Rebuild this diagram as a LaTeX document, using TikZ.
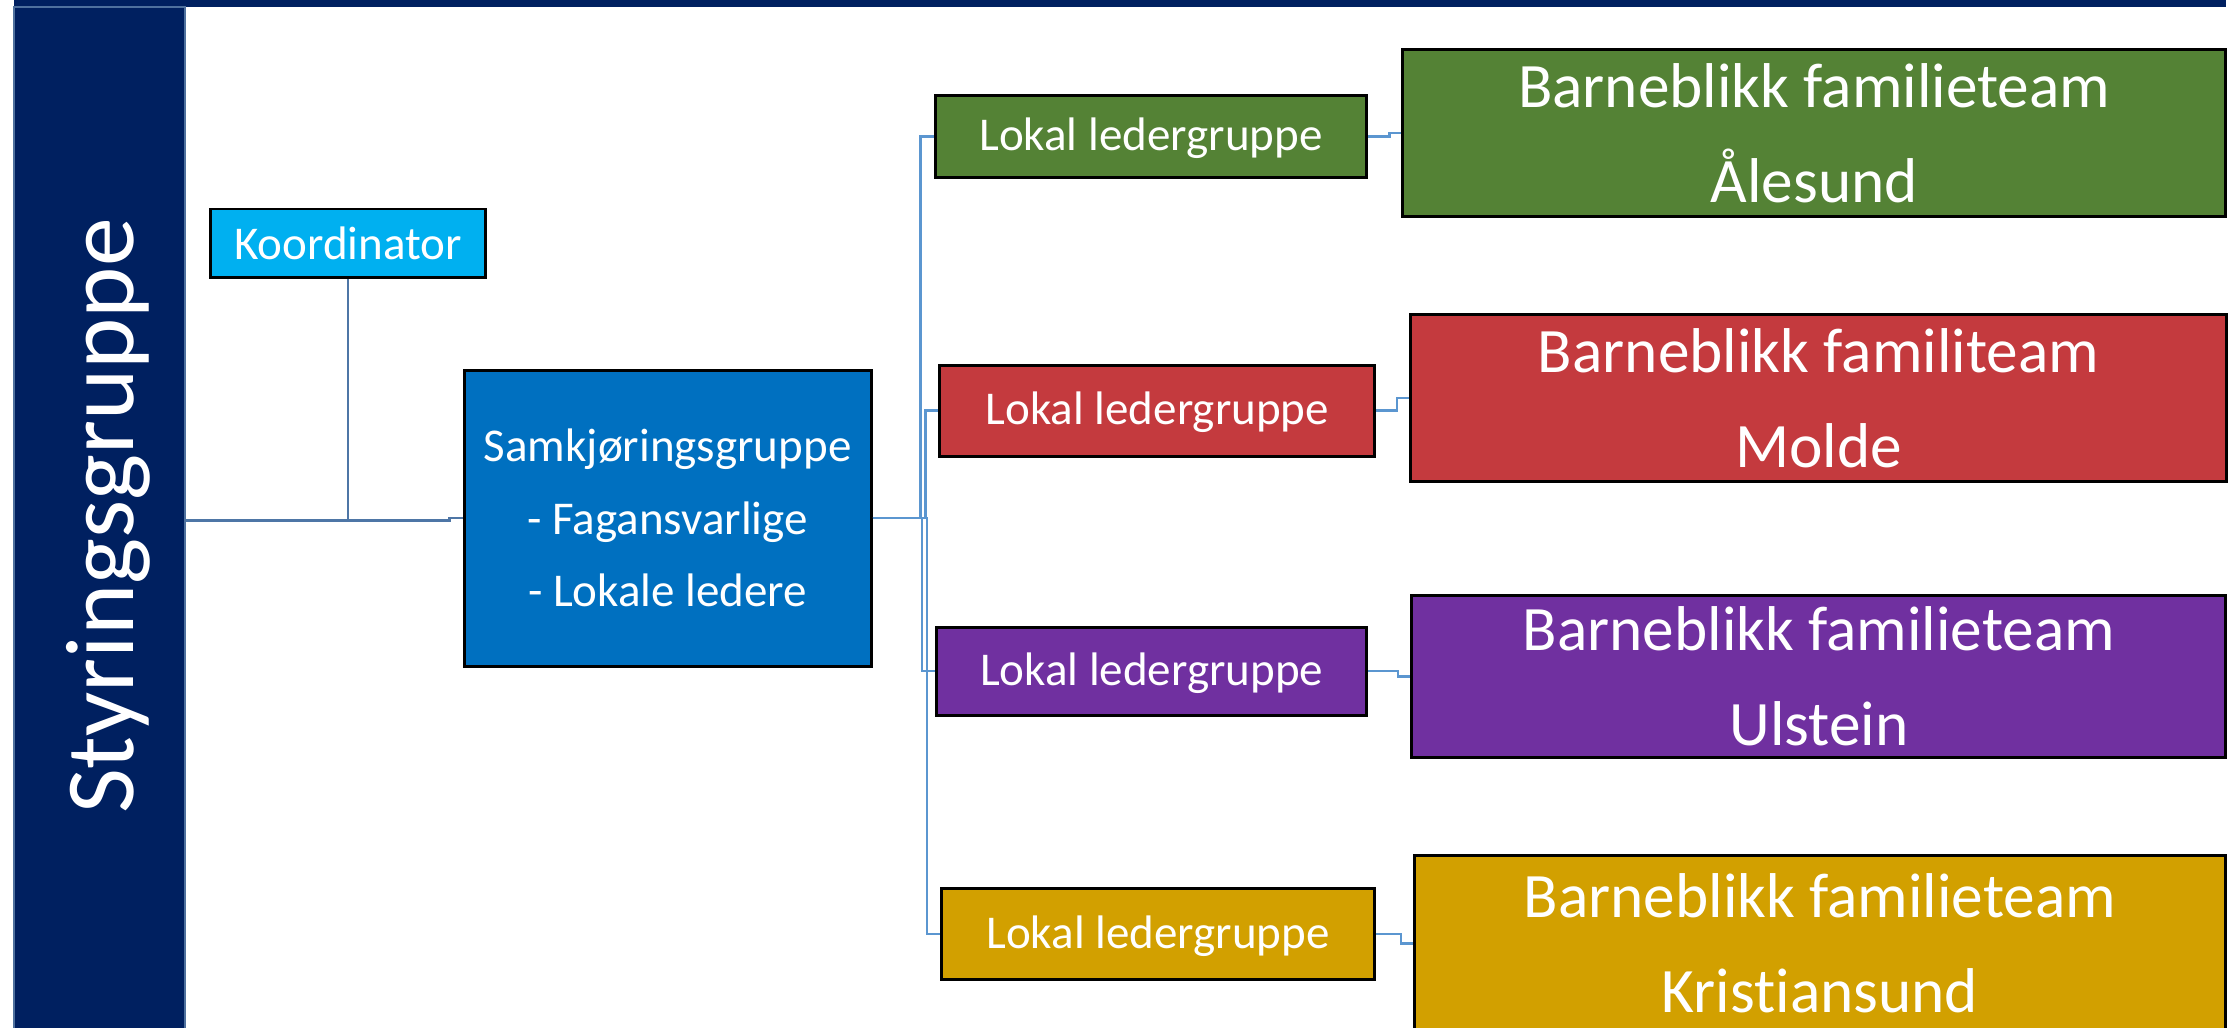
\documentclass[tikz,border=0pt]{standalone}
\usepackage{fontspec}
\setmainfont{Carlito}[Ligatures=NoCommon]
\usetikzlibrary{positioning}
\definecolor{marine}{RGB}{0,32,96}
\definecolor{barkant}{RGB}{79,113,158}
\definecolor{lysblaa}{RGB}{0,176,240}
\definecolor{blaa}{RGB}{0,112,192}
\definecolor{gronn}{RGB}{84,130,53}
\definecolor{rod}{RGB}{196,58,62}
\definecolor{lilla}{RGB}{112,48,160}
\definecolor{gull}{RGB}{210,160,0}
\definecolor{strek}{RGB}{78,118,166}
\definecolor{strekh}{RGB}{91,150,208}
\tikzstyle{leder} = [draw, line width=1.2pt, rectangle, text=white, font=\fontsize{18.8}{29}\selectfont, text height=0.5cm, text depth=0.1cm, minimum width=6.06cm, minimum height=1.24cm]
\tikzstyle{team} = [draw, line width=1.2pt, rectangle, text=white, align=center, font=\fontsize{25.3}{38}\selectfont, minimum width=11.46cm, minimum height=2.34cm]
\tikzstyle{linje} = [draw=strekh, line width=1pt]

\begin{document}
\begin{tikzpicture}[node distance=9.32cm, auto]
    % fixed frame, same size as the slide
    \path[use as bounding box] (0,0) rectangle (31.36,14.44);
    \clip (0,0) rectangle (31.36,14.44);
    \fill[marine] (0.19,14.34) rectangle (31.27,14.44);
    \node [draw=barkant, fill=marine, line width=0.8pt, minimum width=2.4cm, minimum height=14.42cm, inner sep=0pt] (styr) at (1.4,7.13) {};
    \node [rotate=90, text=white, font=\fontsize{39}{47}\selectfont] (tittel) at (1.52,7.19) {Styringsgruppe};

    \node [draw, line width=1pt, fill=lysblaa, text=white, font=\fontsize{18.8}{29}\selectfont, minimum width=3.86cm, minimum height=0.96cm] (koord) at (4.89,11.02) {Koordinator};
    \node [draw, line width=1.2pt, fill=blaa, text=white, align=center, font=\fontsize{18.8}{29}\selectfont, minimum width=5.72cm, minimum height=4.16cm] (samk) at (9.38,7.16) {Samkjøringsgruppe\\- Fagansvarlige\\- Lokale ledere};

    \node [leder, fill=gronn, minimum height=1.15cm] (l1) at (16.17,12.52) {Lokal ledergruppe};
    \node [leder, fill=rod, minimum width=6.11cm, minimum height=1.28cm] (l2) at (16.26,8.67) {Lokal ledergruppe};
    \node [leder, fill=lilla, minimum width=6.04cm] (l3) at (16.18,5.01) {Lokal ledergruppe};
    \node [leder, fill=gull, minimum width=6.08cm, minimum height=1.28cm] (l4) at (16.27,1.32) {Lokal ledergruppe};

    \node [team, fill=gronn, right of=l1, yshift=0.05cm, minimum width=11.57cm, minimum height=2.35cm] (t1) {Barneblikk familieteam\\Ålesund};
    \node [team, fill=rod, right of=l2, node distance=9.29cm, yshift=0.18cm] (t2) {Barneblikk familiteam\\Molde};
    \node [team, fill=lilla, right of=l3, node distance=9.375cm, yshift=-0.075cm, minimum width=11.44cm, minimum height=2.27cm] (t3) {Barneblikk familieteam\\Ulstein};
    \node [team, fill=gull, right of=l4, node distance=9.30cm, yshift=-0.136cm, minimum width=11.40cm, minimum height=2.48cm] (t4) {Barneblikk familieteam\\Kristiansund};

    % connectors
    \draw [draw=strek, line width=1pt] (styr.east) -- ++(3.7,0) |- (samk.west);
    \draw [draw=strek, line width=1pt] (koord.south) -- (koord.south |- styr.east);
    \draw [linje] (samk.east) -- ++(0.67,0) |- (l1.west);
    \draw [linje] (samk.east) -- ++(0.74,0) |- (l2.west);
    \draw [linje] (samk.east) -- ++(0.69,0) |- (l3.west);
    \draw [linje] (samk.east) -- ++(0.76,0) |- (l4.west);
    \draw [linje] (l1.east) -- ++(0.3,0) |- (t1.west);
    \draw [linje] (l2.east) -- ++(0.29,0) |- (t2.west);
    \draw [linje] (l3.east) -- ++(0.42,0) |- (t3.west);
    \draw [linje] (l4.east) -- ++(0.35,0) |- (t4.west);
\end{tikzpicture}
\end{document}
